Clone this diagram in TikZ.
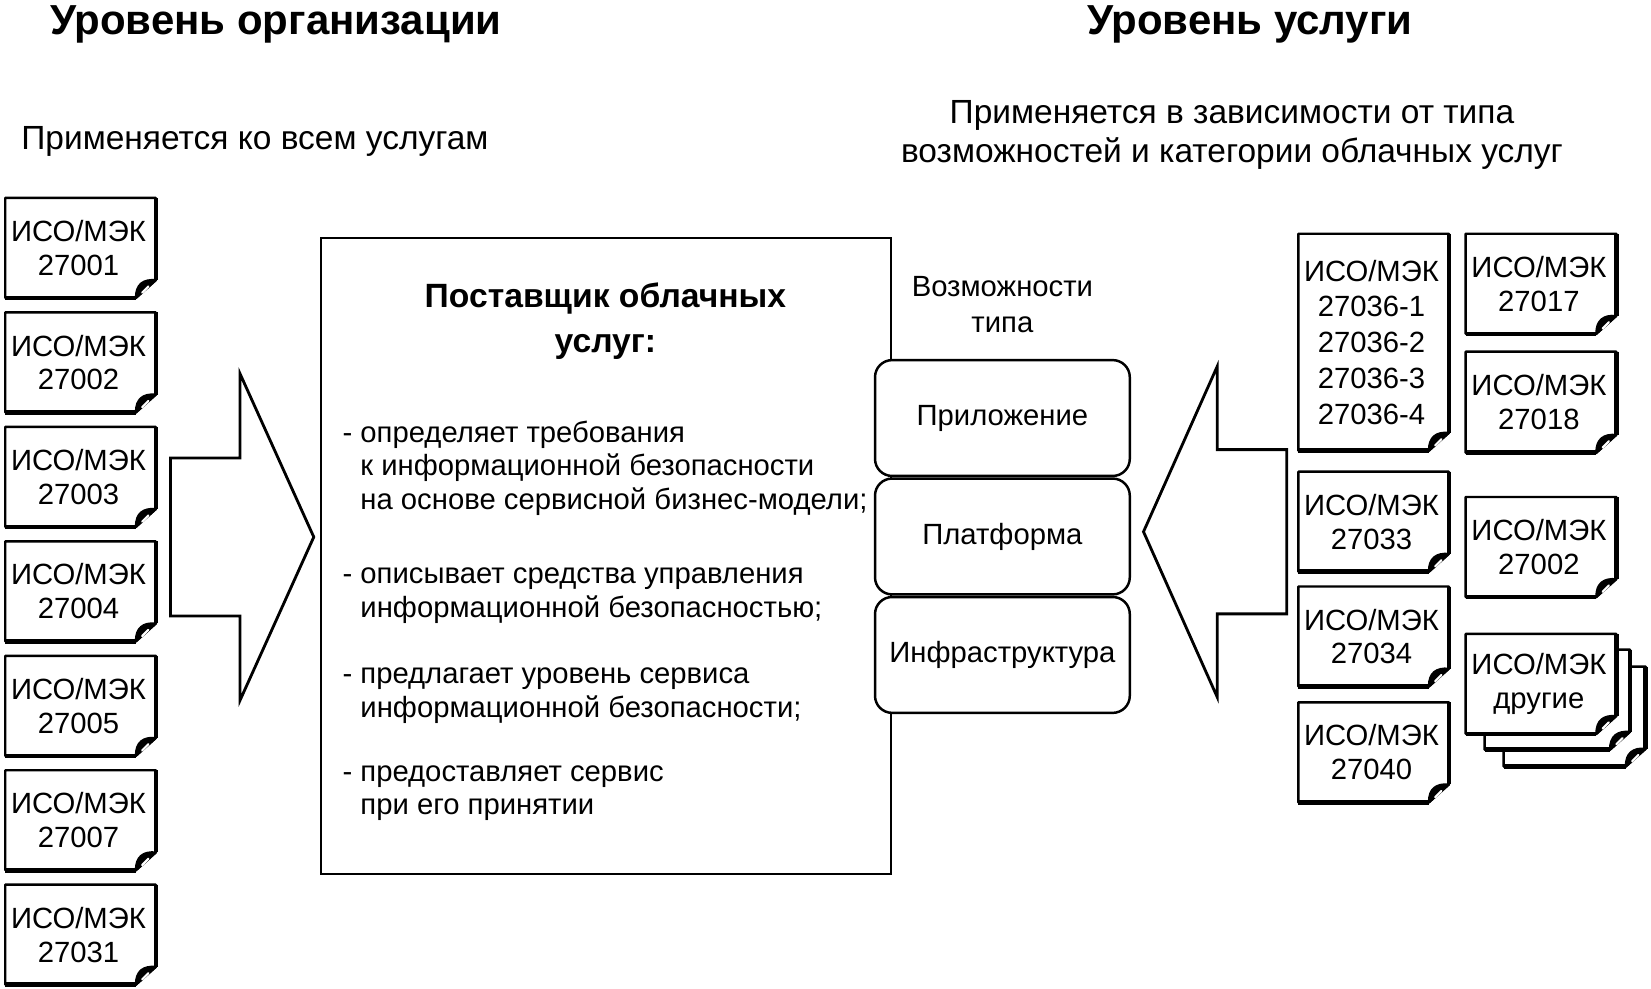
\documentclass[tikz,border=0pt]{standalone}
\usepackage{fontspec}
\setmainfont{Liberation Sans}
\usetikzlibrary{positioning}
\newcommand{\txtfont}{\fontsize{16.6}{19.1}\selectfont}
\newcommand{\subfont}{\fontsize{19}{22}\selectfont}
\newcommand{\titlefont}{\fontsize{23.8}{28}\selectfont\bfseries}
\newcommand{\headfont}{\fontsize{19.1}{25.7}\selectfont\bfseries}
\tikzset{
  docline/.style={line width=1.4pt, fill=white, line join=round},
  docshade/.style={line width=2.6pt},
  typebox/.style={draw, line width=1.4pt, fill=white, rounded corners=0.34cm,
    minimum width=5.08cm, minimum height=2.31cm},
  bigarrow/.style={line width=1.6pt, line join=miter},
}
% document sheet: name, left, top, width, height, text
\newcommand{\isodoc}[6]{%
  \draw[docline] (#2,#3) -- (#2+#4,#3) -- (#2+#4,#3+#5-17) -- (#2+#4-19,#3+#5) -- (#2,#3+#5) -- cycle;
  \draw[docshade] (#2+#4,#3) -- (#2+#4,#3+#5-17);
  \draw[docshade] (#2+#4-19,#3+#5) -- (#2,#3+#5);
  \filldraw[line width=1.2pt, line join=round] (#2+#4,#3+#5-17) -- (#2+#4-19,#3+#5) .. controls (#2+#4-19,#3+#5-13) and (#2+#4-12,#3+#5-18) .. cycle;
  \draw[white, line width=1.2pt, line cap=round] (#2+#4-13,#3+#5-5) -- (#2+#4-7,#3+#5-11);
  \node[align=center] (#1) at (#2+#4/2-2,#3+#5/2) {#6};
}
\begin{document}
\begin{tikzpicture}[x=0.021cm, y=-0.021cm, font=\txtfont]
  \useasboundingbox (0,0) rectangle (1568,939);
  %titles
  \node[font=\titlefont] (orglevel) at (262,23) {Уровень организации};
  \node[font=\titlefont] (svclevel) at (1187,23) {Уровень услуги};
  \node[font=\subfont, anchor=west, inner sep=0pt] (orgnote) at (20,134) {Применяется ко всем услугам};
  \node[font=\subfont, align=center] (svcnote) at (1170,128) {Применяется в зависимости от типа\\возможностей и категории облачных услуг};
  %left column
  \foreach \num [count=\i from 0] in {27001,27002,27003,27004,27005,27007,27031}
    \isodoc{l\num}{5}{188+108.7*\i}{143}{95}{ИСО/МЭК\\\num};
  %arrows
  \draw[bigarrow] (162,435) -- (228,435) -- (228,355) -- (298,510) -- (228,665) -- (228,585) -- (162,585) -- cycle;
  \draw[bigarrow] (1086,505) -- (1156,348) -- (1156,427) -- (1222,427) -- (1222,583) -- (1156,583) -- (1156,662) -- cycle;
  %provider box
  \draw[line width=1.3pt] (305,226) rectangle (846,830);
  \node[font=\headfont, align=center] (provider) at (575,305) {Поставщик облачных\\услуг:};
  \node[anchor=base west, inner sep=0pt] (req) at (325,420)
    {-~\begin{tabular}[t]{@{}l@{}}определяет требования\\к информационной безопасности\\на основе сервисной бизнес-модели;\end{tabular}};
  \node[anchor=base west, inner sep=0pt] (ctrl) at (325,554)
    {-~\begin{tabular}[t]{@{}l@{}}описывает средства управления\\информационной безопасностью;\end{tabular}};
  \node[anchor=base west, inner sep=0pt] (sla) at (325,649)
    {-~\begin{tabular}[t]{@{}l@{}}предлагает уровень сервиса\\информационной безопасности;\end{tabular}};
  \node[anchor=base west, inner sep=0pt] (srv) at (325,742)
    {-~\begin{tabular}[t]{@{}l@{}}предоставляет сервис\\при его принятии\end{tabular}};
  %capability types
  \node[align=center, font=\fontsize{16.6}{20.3}\selectfont] (captype) at (952,289) {Возможности\\типа};
  \node[typebox] (app) at (952,397) {Приложение};
  \node[typebox] (plat) at (952,509.5) {Платформа};
  \node[typebox] (infra) at (952,622) {Инфраструктура};
  %right columns
  \isodoc{r27036}{1233}{222}{143}{206}{ИСО/МЭК\\[1.2pt]27036-1\\[1.2pt]27036-2\\[1.2pt]27036-3\\[1.2pt]27036-4}
  \isodoc{r27033}{1233}{448}{143}{95}{ИСО/МЭК\\27033}
  \isodoc{r27034}{1233}{557}{143}{95}{ИСО/МЭК\\27034}
  \isodoc{r27040}{1233}{667}{143}{95}{ИСО/МЭК\\27040}
  \isodoc{r27017}{1392}{222}{143}{95}{ИСО/МЭК\\27017}
  \isodoc{r27018}{1392}{334}{143}{96}{ИСО/МЭК\\27018}
  \isodoc{r27002}{1392}{472}{143}{95}{ИСО/МЭК\\27002}
  \isodoc{rbackc}{1428}{633}{135}{95}{}
  \isodoc{rbackb}{1410}{617}{138}{95}{}
  \isodoc{rother}{1392}{602}{143}{95}{ИСО/МЭК\\другие}
\end{tikzpicture}
\end{document}
